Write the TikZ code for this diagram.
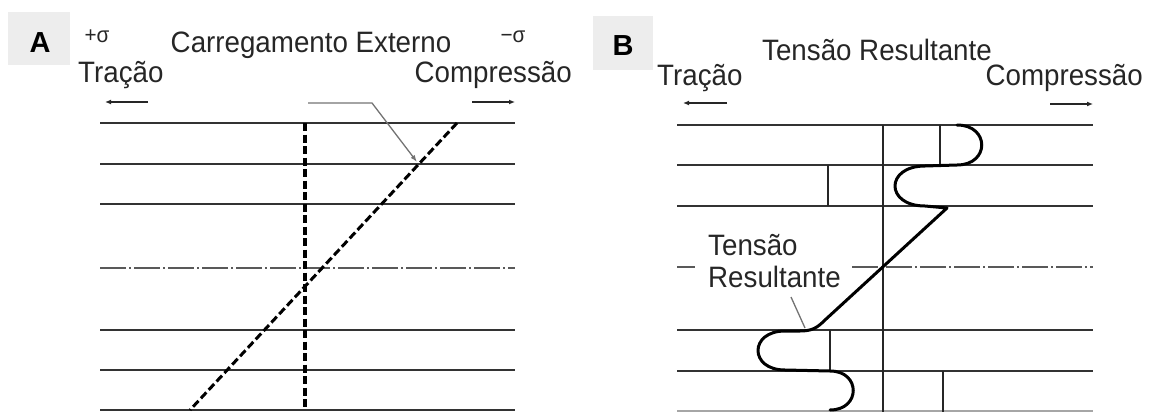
\documentclass[tikz,border=0pt]{standalone}
\usepackage{fontspec}
\setmainfont{Liberation Sans}
\newfontfamily\labelsans[FakeStretch=0.94]{Liberation Sans}
\usetikzlibrary{arrows.meta}
\begin{document}
\begin{tikzpicture}[x=1pt,y=-1pt,
  grid/.style={line width=2pt, draw=black!80},
  chain/.style={line width=1.8pt, draw=black!65, dash pattern=on 26pt off 3pt on 2pt off 3pt},
  tick/.style={line width=1.4pt, draw=black!85},
  heavydash/.style={line width=3.4pt, dash pattern=on 8pt off 3.5pt},
  leader/.style={line width=1.3pt, draw=black!55},
  dirarrow/.style={line width=1.6pt, draw=black!85, -{Latex[length=6pt,width=5pt]}},
  lbl/.style={font=\labelsans\fontsize{29.5}{31}\selectfont, text=black!85, inner sep=0pt},
  sig/.style={font=\labelsans\fontsize{22}{24}\selectfont, text=black!85, inner sep=0pt},
  tagbox/.style={fill=black!7, draw=none},
  tag/.style={font=\fontsize{29}{30}\selectfont\bfseries, inner sep=0pt},
  curve/.style={line width=3pt, line cap=round, line join=round},
]
\useasboundingbox (0,0) rectangle (1149,412);

% ---------- panel A ----------
\fill[tagbox] (8,12) rectangle (70,65);
\node[tag] (tagA) at (40,42.5) {A};
\node[sig, anchor=base] (plusS) at (97,43) {+σ};
\node[sig, anchor=base] (minusS) at (513,43) {−σ};
\node[lbl, anchor=base] (loadA) at (311,53) {Carregamento Externo};
\node[lbl, anchor=base west] (traA) at (78,82) {Tração};
\node[lbl, anchor=base east] (comA) at (572,83) {Compressão};

\coordinate (tlA1) at (148,102); \coordinate (tlA2) at (105,102);
\coordinate (crA1) at (472,102); \coordinate (crA2) at (515,102);
\draw[dirarrow] (tlA1) -- (tlA2);
\draw[dirarrow] (crA1) -- (crA2);

\foreach \yy in {123,164,204,330,370,410}
  \draw[grid] (100,\yy) -- (515,\yy);
\draw[chain] (100,268) -- (515,268);

% uniform part and linear part of the external load
\coordinate (vA1) at (305,123); \coordinate (vA2) at (305,410);
\coordinate (sA1) at (457,123); \coordinate (sA2) at (190,410);
\draw[heavydash] (vA1) -- (vA2);
\draw[heavydash, line width=3pt] (sA1) -- (sA2);

% pointer to the load line
\coordinate (ldA0) at (308,103); \coordinate (ldA1) at (372,103);
\coordinate (ldA2) at (417,162);
\draw[leader, -{Latex[length=7pt,width=5pt]}] (ldA0) -- (ldA1) -- (ldA2);

% ---------- panel B ----------
\fill[tagbox] (593,16) rectangle (653,70);
\node[tag] (tagB) at (623,46) {B};
\node[lbl, anchor=base] (resB) at (877,61) {Tensão Resultante};
\node[lbl, anchor=base west] (traB) at (657,85) {Tração};
\node[lbl, anchor=base east] (comB) at (1143,85) {Compressão};

\coordinate (tlB1) at (727,103); \coordinate (tlB2) at (683,103);
\coordinate (crB1) at (1050,104); \coordinate (crB2) at (1093,104);
\draw[dirarrow] (tlB1) -- (tlB2);
\draw[dirarrow] (crB1) -- (crB2);

\foreach \yy in {125,165,206,330,371}
  \draw[grid] (677,\yy) -- (1093,\yy);
\draw[grid, draw=black!35] (677,410.5) -- (1093,410.5);
\draw[chain] (677,267) -- (695,267);
\draw[chain] (852,267) -- (1093,267);

\draw[tick] (883,125) -- (883,412);
\draw[tick] (940,125) -- (940,165);
\draw[tick] (828,165) -- (828,206);
\draw[tick] (830,330) -- (830,371);
\draw[tick] (943,371) -- (943,412);

% resulting stress profile
\draw[curve] (957,125) .. controls (990,125) and (990,165) .. (957,165)
  -- (925,166) .. controls (885,166) and (885,206) .. (925,206)
  -- (947,208) -- (825,320) .. controls (817,328) and (812,331) .. (800,331)
  -- (785,331) .. controls (749,331) and (749,370) .. (785,370)
  -- (830,371) .. controls (861,371) and (861,410) .. (830,410);

\node[lbl, anchor=base west] (resT1) at (708,255) {Tensão};
\node[lbl, anchor=base west] (resT2) at (708,287) {Resultante};
\coordinate (ldB0) at (791,297); \coordinate (ldB1) at (805,328);
\draw[leader] (ldB0) -- (ldB1);
\end{tikzpicture}
\end{document}
